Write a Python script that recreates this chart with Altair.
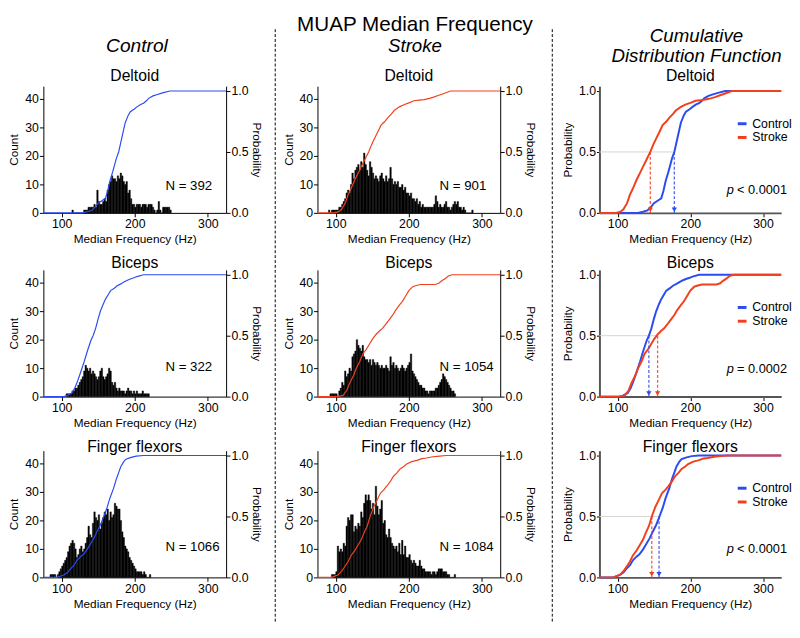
import altair as alt
import pandas as pd

FONT = "Liberation Sans"
BLUE = "#2a4cf2"
RED = "#f2401e"
BIN_WIDTH = 2
X_DOMAIN = [75, 325]
COUNT_DOMAIN = [0, 44.5]
PROB_DOMAIN = [0, 1.04]
W, H, W3 = 186, 129, 185

muscles = ["Deltoid", "Biceps", "Finger flexors"]
title_offsets = [1.5, -2, -5]
groups = ["Control", "Stroke"]
n_control = [392, 322, 1066]
n_stroke = [901, 1054, 1084]
median_control = [178, 143, 157]
median_stroke = [145, 155, 147]
p_texts = ["< 0.0001", "= 0.0002", "< 0.0001"]
n_text_hz = [242, 242, 242]
n_text_count = [9.5, 10.5, 10.5]
p_text_hz = [250, 250, 250]
p_text_prob = [0.19, 0.23, 0.23]

# ---- histogram counts per 2-Hz bin (first bin start in Hz) ----
ctrl_deltoid_start = 114
ctrl_deltoid_counts = [1, 0, 0, 0, 0, 0, 0, 0, 1, 1, 1, 2, 2, 2, 2, 3, 2, 8, 4, 3,
                       3, 4, 5, 4, 8, 10, 11, 13, 12, 12, 11, 13, 12, 14, 13, 11, 10, 11, 7, 8,
                       5, 3, 3, 2, 3, 3, 3, 2, 3, 3, 3, 2, 3, 3, 3, 2, 1, 0, 1, 4,
                       1, 0, 2, 2, 2, 2, 2, 1]
stroke_deltoid_start = 90
stroke_deltoid_counts = [1, 0, 1, 1, 1, 1, 1, 2, 2, 3, 4, 5, 7, 8, 7, 10, 14, 12, 15, 16,
                         17, 15, 18, 16, 21, 17, 15, 13, 18, 16, 14, 12, 13, 12, 11, 13, 14, 12, 11, 13,
                         11, 12, 16, 12, 10, 11, 10, 11, 9, 9, 10, 8, 9, 7, 7, 6, 7, 5, 5, 4,
                         5, 3, 4, 2, 3, 2, 2, 2, 2, 2, 2, 2, 3, 6, 4, 2, 3, 2, 2, 3,
                         4, 2, 2, 1, 2, 3, 4, 3, 4, 2, 2, 1, 2, 1, 0, 0, 0, 0, 1]
ctrl_biceps_start = 106
ctrl_biceps_counts = [1, 1, 1, 1, 2, 2, 3, 3, 4, 5, 6, 7, 9, 11, 10, 9, 10, 8, 9, 8,
                      7, 6, 7, 9, 10, 7, 6, 7, 8, 10, 9, 5, 4, 5, 3, 2, 3, 2, 2, 2,
                      1, 2, 3, 2, 2, 1, 2, 1, 2, 1, 1, 1, 2, 1, 1, 1, 1]
stroke_biceps_start = 92
stroke_biceps_counts = [1, 1, 1, 1, 1, 0, 2, 3, 5, 4, 9, 7, 8, 10, 9, 14, 15, 16, 20, 18,
                        17, 16, 18, 14, 13, 13, 12, 13, 11, 13, 12, 11, 12, 11, 10, 11, 10, 10, 11, 10,
                        9, 14, 11, 12, 10, 11, 10, 9, 10, 11, 10, 9, 10, 11, 12, 15, 9, 8, 7, 6,
                        5, 4, 4, 3, 3, 2, 2, 1, 2, 2, 2, 2, 3, 3, 4, 5, 6, 8, 7, 6,
                        5, 4, 3, 2, 2, 1]
ctrl_ff_start = 84
ctrl_ff_counts = [1, 1, 1, 1, 0, 1, 2, 3, 4, 5, 6, 7, 9, 11, 12, 13, 12, 10, 7, 8,
                  10, 11, 9, 10, 12, 14, 18, 15, 14, 19, 23, 21, 20, 22, 17, 19, 21, 23, 22, 24,
                  20, 23, 21, 22, 26, 25, 24, 24, 20, 16, 14, 11, 10, 9, 7, 6, 5, 4, 3, 2,
                  2, 2, 2, 1, 2, 1, 0, 0, 1]
stroke_ff_start = 94
stroke_ff_counts = [1, 1, 1, 2, 11, 9, 10, 9, 12, 11, 18, 21, 20, 22, 22, 16, 18, 17, 19, 18,
                    23, 21, 26, 29, 27, 29, 27, 24, 26, 22, 32, 25, 22, 24, 27, 19, 20, 15, 14, 17,
                    14, 12, 11, 10, 11, 9, 12, 8, 13, 8, 11, 7, 7, 8, 6, 5, 6, 5, 4, 4,
                    6, 4, 3, 3, 2, 2, 2, 2, 1, 2, 2, 1, 2, 3, 3, 3, 2, 2, 2, 1,
                    1, 0, 0, 0, 1]

# ---- cumulative distribution curves (Hz, probability) ----
ctrl_deltoid_cdf_hz = [75, 128, 135, 141, 146, 150, 155, 160, 163, 166, 170, 175, 178, 181, 184, 187, 191,
                       194, 199, 203, 208, 212, 216, 219, 225, 230, 238, 248, 325]
ctrl_deltoid_cdf_p = [0, 0, 0.01, 0.02, 0.05, 0.08, 0.1, 0.12, 0.18, 0.26, 0.34, 0.45, 0.5, 0.58, 0.66, 0.74, 0.8,
                      0.83, 0.85, 0.87, 0.89, 0.9, 0.92, 0.94, 0.96, 0.97, 0.985, 1, 1]
stroke_deltoid_cdf_hz = [75, 98, 104, 108, 113, 117, 121, 126, 131, 135, 140, 145, 149, 153, 158, 162, 167, 171,
                         176, 180, 187, 194, 201, 207, 214, 221, 228, 234, 241, 248, 257, 325]
stroke_deltoid_cdf_p = [0, 0, 0.01, 0.03, 0.08, 0.15, 0.2, 0.27, 0.33, 0.38, 0.44, 0.5, 0.56, 0.61, 0.67, 0.72,
                        0.75, 0.78, 0.81, 0.84, 0.87, 0.89, 0.905, 0.92, 0.925, 0.93, 0.94, 0.95, 0.965, 0.98, 1, 1]
ctrl_biceps_cdf_hz = [75, 103, 108, 114, 118, 122, 126, 131, 135, 140, 143, 146.5, 150, 153, 157, 160, 164, 167,
                      172, 176, 181, 185, 190, 194, 199, 203, 212, 325]
ctrl_biceps_cdf_p = [0, 0, 0.01, 0.03, 0.07, 0.13, 0.2, 0.29, 0.37, 0.46, 0.5, 0.56, 0.64, 0.7, 0.76, 0.8, 0.84,
                     0.87, 0.89, 0.91, 0.925, 0.94, 0.955, 0.965, 0.975, 0.985, 1, 1]
stroke_biceps_cdf_hz = [75, 101, 110, 115, 119, 124, 128, 133, 137, 142, 146, 150, 155, 160, 164, 168, 173, 178,
                        182, 187, 191, 196, 200, 205, 209, 216, 223, 230, 236, 241, 245, 250, 254, 259, 325]
stroke_biceps_cdf_p = [0, 0, 0.01, 0.05, 0.11, 0.17, 0.23, 0.29, 0.35, 0.39, 0.43, 0.47, 0.51, 0.54, 0.56, 0.59,
                       0.63, 0.67, 0.71, 0.75, 0.78, 0.83, 0.87, 0.9, 0.91, 0.92, 0.92, 0.92, 0.92, 0.93, 0.95,
                       0.97, 0.99, 1, 1]
ctrl_ff_cdf_hz = [75, 94, 103, 108, 112, 117, 121, 126, 130, 135, 139, 144, 148, 153, 157, 162, 166, 171, 175,
                  178, 181, 185, 188, 195, 202, 212, 325]
ctrl_ff_cdf_p = [0, 0, 0.02, 0.04, 0.07, 0.1, 0.14, 0.17, 0.19, 0.23, 0.27, 0.32, 0.37, 0.43, 0.49, 0.57, 0.65,
                 0.73, 0.81, 0.86, 0.91, 0.95, 0.97, 0.985, 0.995, 1, 1]
stroke_ff_cdf_hz = [75, 94, 103, 108, 112, 117, 121, 126, 130, 135, 139, 143, 147, 152, 157, 161, 166, 170, 175,
                    179, 184, 188, 193, 197, 204, 211, 218, 224, 233, 242, 251, 325]
stroke_ff_cdf_p = [0, 0, 0.02, 0.05, 0.085, 0.13, 0.18, 0.22, 0.26, 0.31, 0.37, 0.42, 0.5, 0.58, 0.64, 0.69,
                   0.72, 0.75, 0.79, 0.83, 0.86, 0.89, 0.91, 0.93, 0.95, 0.96, 0.975, 0.98, 0.99, 0.995, 1, 1]

hist = {
    "Control": [(ctrl_deltoid_start, ctrl_deltoid_counts), (ctrl_biceps_start, ctrl_biceps_counts),
                (ctrl_ff_start, ctrl_ff_counts)],
    "Stroke": [(stroke_deltoid_start, stroke_deltoid_counts), (stroke_biceps_start, stroke_biceps_counts),
               (stroke_ff_start, stroke_ff_counts)],
}
cdf = {
    "Control": [(ctrl_deltoid_cdf_hz, ctrl_deltoid_cdf_p), (ctrl_biceps_cdf_hz, ctrl_biceps_cdf_p),
                (ctrl_ff_cdf_hz, ctrl_ff_cdf_p)],
    "Stroke": [(stroke_deltoid_cdf_hz, stroke_deltoid_cdf_p), (stroke_biceps_cdf_hz, stroke_biceps_cdf_p),
               (stroke_ff_cdf_hz, stroke_ff_cdf_p)],
}
n_values = {"Control": n_control, "Stroke": n_stroke}
colors = {"Control": BLUE, "Stroke": RED}
medians = {"Control": median_control, "Stroke": median_stroke}


def xscale():
    return alt.Scale(domain=X_DOMAIN, nice=False, zero=False)


def panel_title(i):
    return alt.TitleParams(muscles[i], fontSize=16, font=FONT, fontWeight="normal", frame="group",
                           anchor="middle", offset=title_offsets[i], color="black")


def hist_panel(group, i):
    start, counts = hist[group][i]
    f0 = [start + BIN_WIDTH * k for k in range(len(counts))]
    dh = pd.DataFrame({"f0": f0, "f1": [v + BIN_WIDTH for v in f0], "count": counts})
    hz, p = cdf[group][i]
    dc = pd.DataFrame({"hz": hz, "p": p})
    nd = pd.DataFrame({"hz": [n_text_hz[i]], "c": [n_text_count[i]],
                       "t": [f"N = {n_values[group][i]}"]})
    bars = alt.Chart(dh).mark_bar(color="black", stroke="black", strokeWidth=0.4).encode(
        x=alt.X("f0:Q", scale=xscale(),
                axis=alt.Axis(values=[100, 200, 300], title="Median Frequency (Hz)")),
        x2="f1:Q",
        y=alt.Y("count:Q", scale=alt.Scale(domain=COUNT_DOMAIN, nice=False),
                axis=alt.Axis(values=[0, 10, 20, 30, 40], title="Count")),
        y2=alt.datum(0),
    )
    line = alt.Chart(dc).mark_line(color=colors[group], strokeWidth=1.2).encode(
        x=alt.X("hz:Q", scale=xscale()),
        y=alt.Y("p:Q", scale=alt.Scale(domain=PROB_DOMAIN, nice=False),
                axis=alt.Axis(orient="right", values=[0, 0.5, 1], format=".1f", title="Probability",
                              titlePadding=1)),
    )
    txt = alt.Chart(nd).mark_text(align="left", baseline="middle", fontSize=13.5, font=FONT,
                                  color="black").encode(
        x=alt.X("hz:Q", scale=xscale()),
        y=alt.Y("c:Q", scale=alt.Scale(domain=COUNT_DOMAIN, nice=False), axis=None),
        text="t:N",
    )
    return alt.layer(bars, line, txt).resolve_scale(y="independent").properties(
        width=W, height=H, title=panel_title(i))


def cdf_panel(i):
    rows = []
    for g in groups:
        hz, p = cdf[g][i]
        rows += [{"group": g, "hz": h, "p": q} for h, q in zip(hz, p)]
    dc = pd.DataFrame(rows)
    yscale = alt.Scale(domain=PROB_DOMAIN, nice=False)
    grey_df = pd.DataFrame({"h0": [X_DOMAIN[0]],
                            "h1": [max(median_control[i], median_stroke[i])], "p": [0.5]})
    grey = alt.Chart(grey_df).mark_rule(color="#d4d4d4", strokeWidth=1).encode(
        x=alt.X("h0:Q", scale=xscale(),
                axis=alt.Axis(values=[100, 200, 300], title="Median Frequency (Hz)",
                              domainColor="#555555", domainWidth=2)),
        x2="h1:Q",
        y=alt.Y("p:Q", scale=yscale,
                axis=alt.Axis(values=[0, 0.5, 1], format=".1f", title="Probability",
                              domainColor="#555555", domainWidth=2, tickSize=3)),
    )
    lines = alt.Chart(dc).mark_line(strokeWidth=2).encode(
        x=alt.X("hz:Q", scale=xscale()),
        y=alt.Y("p:Q", scale=yscale),
        color=alt.Color("group:N", scale=alt.Scale(domain=groups, range=[BLUE, RED]),
                        legend=alt.Legend(orient="none", legendX=139, legendY=32, title=None,
                                          symbolType="stroke", symbolStrokeWidth=3, symbolSize=80,
                                          labelFontSize=12.5, labelFont=FONT, labelColor="black",
                                          rowPadding=1, labelOffset=4, padding=0)),
    )
    layers = [grey, lines]
    for g in groups:
        md = pd.DataFrame({"m": [medians[g][i]], "top": [0.5], "bot": [0.0], "tip": [0.025]})
        layers.append(alt.Chart(md).mark_rule(color=colors[g], strokeWidth=1.3,
                                              strokeDash=[3, 2], opacity=0.85).encode(
            x=alt.X("m:Q", scale=xscale()), y=alt.Y("top:Q", scale=yscale), y2="bot:Q"))
        layers.append(alt.Chart(md).mark_point(shape="triangle-down", filled=True, size=28,
                                               color=colors[g], opacity=1).encode(
            x=alt.X("m:Q", scale=xscale()), y=alt.Y("tip:Q", scale=yscale)))
    pd_df = pd.DataFrame({"hz": [p_text_hz[i]], "p": [p_text_prob[i]], "t": [p_texts[i]]})
    layers.append(alt.Chart(pd_df).mark_text(text="p", fontStyle="italic", align="left", baseline="middle",
                                             fontSize=13, font=FONT, color="black").encode(
        x=alt.X("hz:Q", scale=xscale()), y=alt.Y("p:Q", scale=yscale)))
    layers.append(alt.Chart(pd_df).mark_text(align="left", baseline="middle", dx=10.5,
                                             fontSize=13, font=FONT, color="black").encode(
        x=alt.X("hz:Q", scale=xscale()), y=alt.Y("p:Q", scale=yscale), text="t:N"))
    return alt.layer(*layers).properties(width=W3, height=H, title=panel_title(i))


VS = 9
col1 = alt.vconcat(*[hist_panel("Control", i) for i in range(3)], spacing=VS).properties(
    title=alt.TitleParams("Control", fontSize=19.5, fontStyle="italic", font=FONT, fontWeight="normal",
                          anchor="middle", dx=2, offset=12, color="black"))
col2 = alt.vconcat(*[hist_panel("Stroke", i) for i in range(3)], spacing=VS).properties(
    title=alt.TitleParams("MUAP Median Frequency", subtitle="Stroke", fontSize=21, font=FONT,
                          fontWeight="normal", subtitleFont=FONT, subtitleFontSize=19,
                          subtitleFontStyle="italic", subtitleColor="black", subtitlePadding=3,
                          anchor="middle", dx=6, offset=12, color="black"))
col3 = alt.vconcat(*[cdf_panel(i) for i in range(3)], spacing=VS).resolve_scale(
    color="independent").properties(
    title=alt.TitleParams(["Cumulative", "Distribution Function"], fontSize=19, fontStyle="italic",
                          font=FONT, fontWeight="normal", lineHeight=20, anchor="middle", dx=20,
                          offset=2, color="black"))


def separator(width, pos):
    return alt.Chart(pd.DataFrame({"a": [0]})).mark_rule(color="black", strokeWidth=1,
                                                         strokeDash=[3, 2]).encode(
        x=alt.value(pos), y=alt.value(-58), y2=alt.value(547)).properties(width=width, height=500)


left = alt.hconcat(col1, separator(1, 1), spacing=12)
right = alt.hconcat(col2, separator(9, 8), col3, spacing=8).resolve_scale(color="independent")

chart = alt.hconcat(left, right, spacing=6).resolve_scale(
    color="independent").properties(padding={"left": 0, "top": 0, "right": 0, "bottom": 0}
).configure_view(stroke=None).configure_axis(
    labelFont=FONT, titleFont=FONT, labelFontSize=12.5, titleFontSize=12, titleFontWeight="normal",
    labelColor="black", titleColor="black", domainColor="black", tickColor="black",
    domainWidth=1, tickWidth=1, tickSize=4, labelPadding=1, titlePadding=4, grid=False
).configure_title(font=FONT)

chart.save("out.html", embed_options={"renderer": "svg", "actions": False})
